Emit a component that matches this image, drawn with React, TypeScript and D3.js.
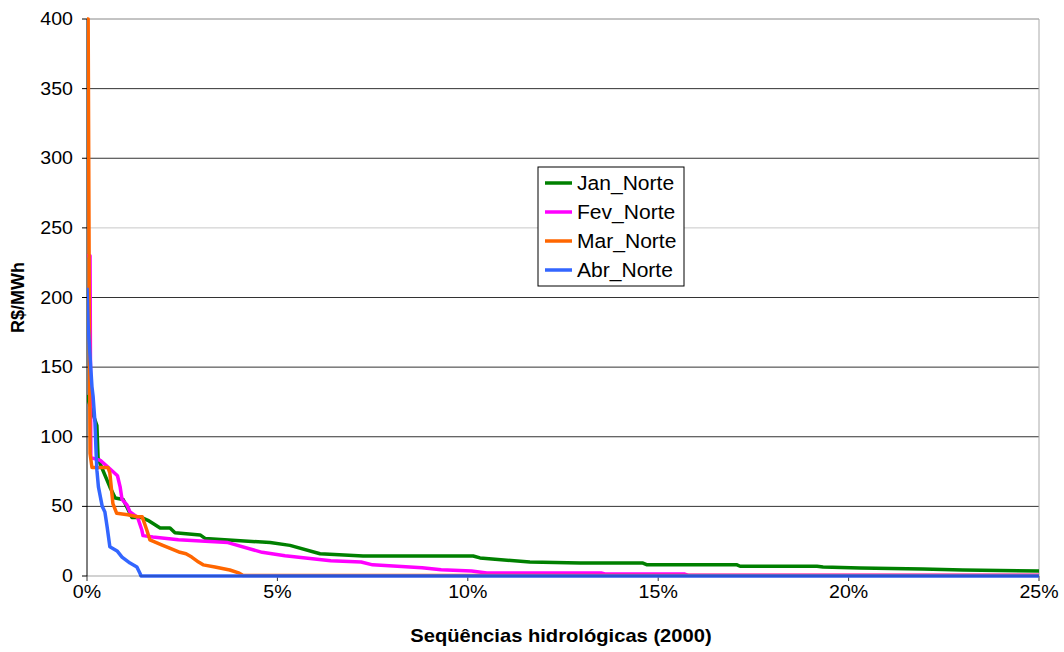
import React from "react";
import * as d3 from "d3";

const seriesNames = ["Jan_Norte", "Fev_Norte", "Mar_Norte", "Abr_Norte"];
const seriesColors = ["#008000", "#ff00ff", "#ff6600", "#3366ff"];

// [percent of sequences, R$/MWh]
const janNorte: [number, number][] = [
  [0, 130], [0.05, 125], [0.21, 112], [0.26, 108], [0.29, 85], [0.34, 81], [0.6, 64], [0.74, 56],
  [0.95, 55], [1.18, 42], [1.44, 42], [1.6, 40], [1.92, 34.5], [2.18, 34.5], [2.31, 31], [2.97, 29.5],
  [3.1, 27], [4.81, 24], [5.33, 22], [6.12, 16], [7.25, 14.4], [10.14, 14.4], [10.32, 13], [11.63, 10],
  [12.95, 9.3], [14.6, 9.3], [14.71, 8], [17.07, 8], [17.15, 7], [19.17, 7], [19.33, 6.5], [20.3, 5.7],
  [21.95, 5], [23, 4.3], [25, 3.6],
];
const fevNorte: [number, number][] = [
  [0, 230], [0.08, 230], [0.1, 85], [0.35, 83], [0.6, 77], [0.8, 72], [0.87, 64], [0.92, 55],
  [1.05, 51], [1.13, 46], [1.33, 42], [1.44, 33], [1.47, 29], [1.73, 28], [2.4, 26], [3.7, 24],
  [4.6, 17], [5.2, 14.5], [6.4, 11], [7.2, 10], [7.5, 8], [8.8, 6], [9.3, 4.5], [10.1, 3.6],
  [10.5, 2.2], [13.5, 2.2], [13.6, 1.4], [15.7, 1.4], [15.8, 0.5], [25, 0.5],
];
const marNorte: [number, number][] = [
  [0, 400], [0.03, 400], [0.06, 200], [0.08, 88], [0.13, 78], [0.55, 78], [0.6, 74], [0.68, 52],
  [0.78, 45], [1.07, 44], [1.33, 42.5], [1.45, 42.5], [1.57, 33], [1.65, 26], [1.99, 22], [2.17, 20],
  [2.44, 17], [2.6, 16], [2.75, 13.6], [2.93, 10], [3.05, 8], [3.36, 6.5], [3.75, 4.3], [4.0, 2],
  [4.1, 0.3], [25, 0.3],
];
const abrNorte: [number, number][] = [
  [0, 207], [0.03, 180], [0.13, 136], [0.16, 129], [0.21, 110], [0.24, 88], [0.26, 76], [0.3, 64],
  [0.4, 50], [0.47, 46], [0.53, 35], [0.6, 21], [0.79, 18], [0.92, 13.6], [1.13, 9.3], [1.31, 6.5],
  [1.39, 2], [1.42, 0], [25, 0],
];
const seriesData = [janNorte, fevNorte, marNorte, abrNorte];

const yTicks = [0, 50, 100, 150, 200, 250, 300, 350, 400];
const xTicks = [0, 5, 10, 15, 20, 25];
const xTitle = "Seqüências hidrológicas (2000)";
const yTitle = "R$/MWh";

const W = 1064;
const H = 652;
const left = 87;
const right = 1039;
const top = 19;
const bottom = 576;
const SX = 1.12;
const FONT = "Arial, 'Liberation Sans', sans-serif";

export default function App() {
  const x = d3.scaleLinear().domain([0, 25]).range([left, right]);
  const y = d3.scaleLinear().domain([0, 400]).range([bottom, top]);
  const line = d3
    .line<[number, number]>()
    .x((d) => x(d[0]))
    .y((d) => y(d[1]));

  const gridColor = (v: number) => (v === 400 ? "#888" : v === 250 ? "#c8c8c8" : "#333");

  const legendX = 538;
  const legendY = 167;
  const legendRowY = [183, 212, 241, 270];

  return (
    <svg width={W} height={H} style={{ position: "absolute", left: 0, top: 0, background: "#fff" }}>
      <defs>
        <clipPath id="plot">
          <rect x={left} y={top - 2} width={right - left + 2} height={bottom - top + 4} />
        </clipPath>
      </defs>
      <rect x={0} y={0} width={W} height={H} fill="#fff" />
      {yTicks
        .filter((v) => v > 0)
        .map((v) => (
          <line key={v} x1={left} x2={right} y1={y(v)} y2={y(v)} stroke={gridColor(v)} strokeWidth={1} />
        ))}
      <line x1={right} x2={right} y1={top} y2={bottom} stroke="#aaa" strokeWidth={1} />

      {/* axes */}
      <line x1={left} x2={left} y1={top} y2={bottom} stroke="#000" strokeWidth={1} />
      {yTicks.map((v) => (
        <line key={v} x1={left - 5} x2={left} y1={y(v)} y2={y(v)} stroke="#000" />
      ))}
      {xTicks.map((v) => (
        <line key={v} x1={x(v)} x2={x(v)} y1={bottom} y2={bottom + 5} stroke="#333" />
      ))}

      {/* series */}
      <g clipPath="url(#plot)">
        {seriesData.map((d, i) => (
          <path
            key={seriesNames[i]}
            d={line(d) || ""}
            fill="none"
            stroke={seriesColors[i]}
            strokeWidth={3.5}
            strokeLinejoin="round"
          />
        ))}
      </g>
      <line x1={left} x2={right} y1={bottom} y2={bottom} stroke="#000" strokeWidth={1} opacity={0.35} />

      {/* tick labels */}
      {yTicks.map((v) => (
        <g key={v} transform={`translate(${left - 14},${y(v) + 6}) scale(${SX},1)`}>
          <text textAnchor="end" fontFamily={FONT} fontSize={17.5} fill="#000">
            {v}
          </text>
        </g>
      ))}
      {xTicks.map((v) => (
        <g key={v} transform={`translate(${x(v)},${598}) scale(${SX},1)`}>
          <text textAnchor="middle" fontFamily={FONT} fontSize={17.5} fill="#000">
            {v}%
          </text>
        </g>
      ))}

      {/* titles */}
      <g transform={`translate(${(left + right) / 2 - 2},${642}) scale(${SX},1)`}>
        <text textAnchor="middle" fontFamily={FONT} fontSize={18} fontWeight="bold" fill="#000">
          {xTitle}
        </text>
      </g>
      <g transform={`translate(${24},${(top + bottom) / 2}) rotate(-90)`}>
        <text textAnchor="middle" fontFamily={FONT} fontSize={18} fontWeight="bold" fill="#000">
          {yTitle}
        </text>
      </g>

      {/* legend */}
      <rect x={legendX} y={legendY} width={146} height={119} fill="#fff" stroke="#000" strokeWidth={1} />
      {seriesNames.map((n, i) => (
        <g key={n}>
          <line x1={545} x2={572} y1={legendRowY[i]} y2={legendRowY[i]} stroke={seriesColors[i]} strokeWidth={3.5} />
          <g transform={`translate(${577},${legendRowY[i] + 7}) scale(1.08,1)`}>
            <text fontFamily={FONT} fontSize={19.5} fill="#000">
              {n}
            </text>
          </g>
        </g>
      ))}
    </svg>
  );
}
